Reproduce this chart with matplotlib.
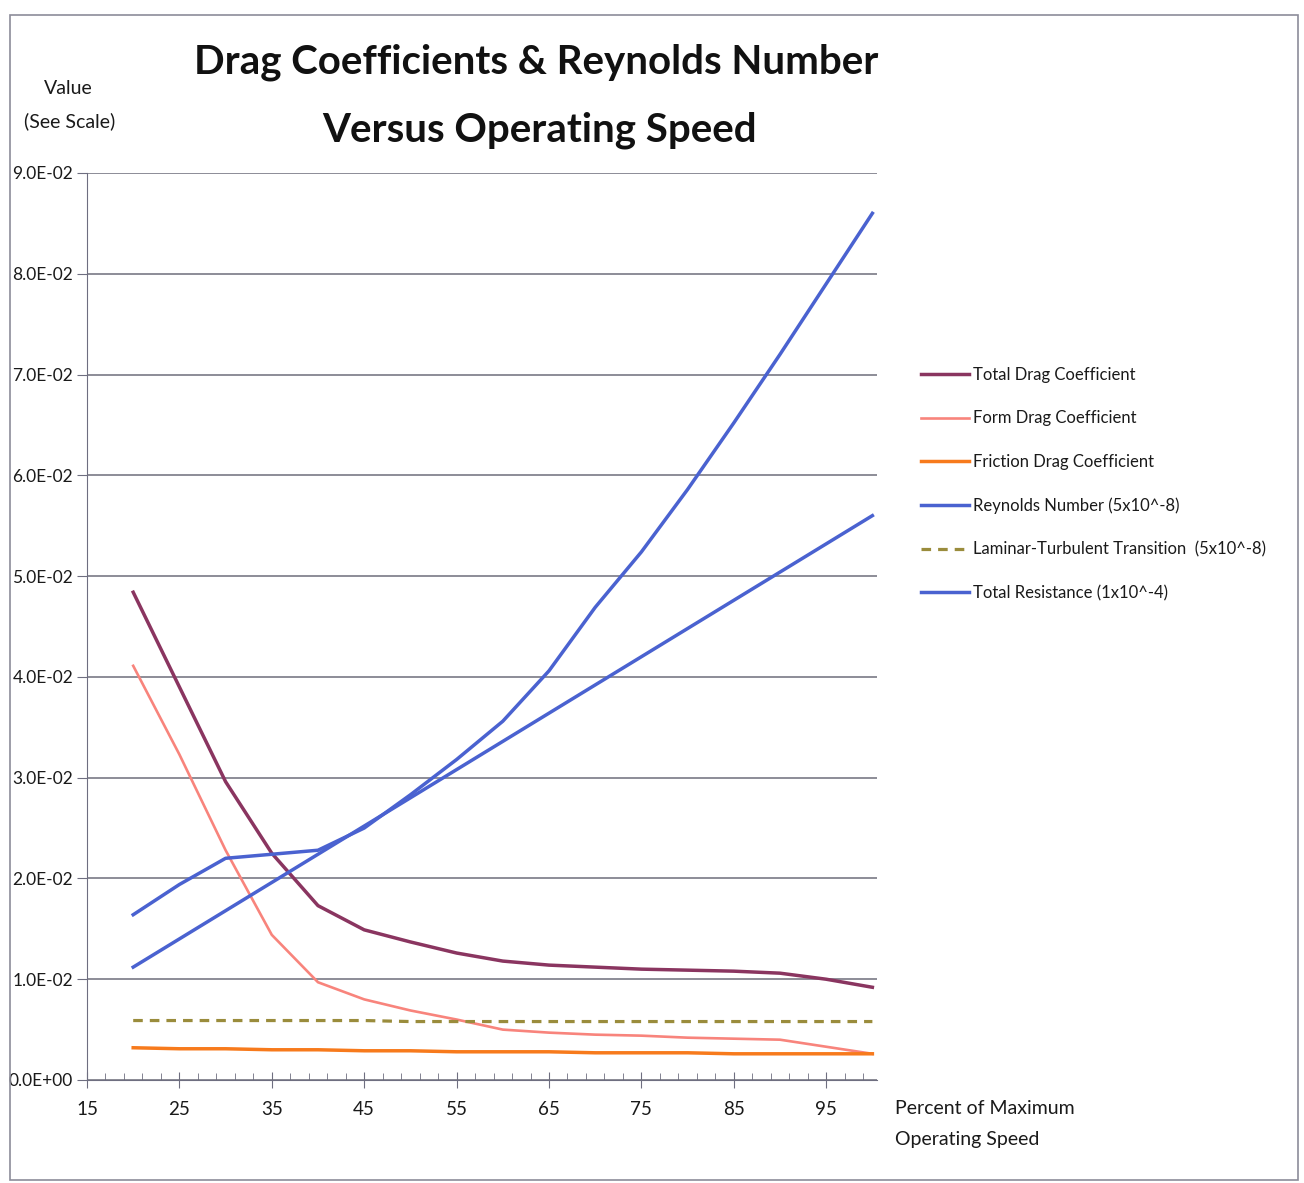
import matplotlib
matplotlib.use("Agg")
import matplotlib.pyplot as plt
from matplotlib.ticker import FuncFormatter, FixedLocator, MultipleLocator
from matplotlib.patches import Rectangle
from matplotlib import font_manager

# percent of maximum operating speed
speed = [20, 25, 30, 35, 40, 45, 50, 55, 60, 65, 70, 75, 80, 85, 90, 95, 100]

total_drag = [0.0484, 0.0390, 0.0296, 0.0225, 0.0173, 0.0149, 0.0137, 0.0126, 0.0118,
              0.0114, 0.0112, 0.0110, 0.0109, 0.0108, 0.0106, 0.0100, 0.0092]
form_drag = [0.0411, 0.0323, 0.0228, 0.0144, 0.0097, 0.0080, 0.0069, 0.0060, 0.0050,
             0.0047, 0.0045, 0.0044, 0.0042, 0.0041, 0.0040, 0.0033, 0.0026]
friction_drag = [0.0032, 0.0031, 0.0031, 0.0030, 0.0030, 0.0029, 0.0029, 0.0028, 0.0028,
                 0.0028, 0.0027, 0.0027, 0.0027, 0.0026, 0.0026, 0.0026, 0.0026]
reynolds = [0.0112, 0.0140, 0.0168, 0.0196, 0.0224, 0.0252, 0.0280, 0.0308, 0.0336,
            0.0364, 0.0392, 0.0420, 0.0448, 0.0476, 0.0504, 0.0532, 0.0560]
transition = [0.0059, 0.0059, 0.0059, 0.0059, 0.0059, 0.0059, 0.0058, 0.0058, 0.0058,
              0.0058, 0.0058, 0.0058, 0.0058, 0.0058, 0.0058, 0.0058, 0.0058]
total_resistance = [0.0164, 0.0194, 0.0220, 0.0224, 0.0228, 0.0250, 0.0283, 0.0318, 0.0356,
                    0.0406, 0.0469, 0.0524, 0.0586, 0.0652, 0.0720, 0.0790, 0.0860]

names = ["Total Drag Coefficient", "Form Drag Coefficient", "Friction Drag Coefficient",
         "Reynolds Number (5x10^-8)", "Laminar-Turbulent Transition  (5x10^-8)",
         "Total Resistance (1x10^-4)"]

xticks = [15, 25, 35, 45, 55, 65, 75, 85, 95]

available = {f.name for f in font_manager.fontManager.ttflist}
narrow = "Liberation Sans Narrow" if "Liberation Sans Narrow" in available else "Lato"
plt.rcParams['font.family'] = [narrow, 'DejaVu Sans']
txt = "#1a1a1a"
axis_col = "#6e6e80"

fig = plt.figure(figsize=(13.04, 11.83), dpi=100)
ax = fig.add_axes([87 / 1304, 1 - 1080 / 1183, (877 - 87) / 1304, (1080 - 173) / 1183])

ax.plot(speed, total_drag, color="#8a3560", lw=2.5, label=names[0])
ax.plot(speed, form_drag, color="#f8847c", lw=1.9, label=names[1])
ax.plot(speed, friction_drag, color="#f77a1c", lw=2.5, label=names[2])
ax.plot(speed, reynolds, color="#4a62d0", lw=2.5, label=names[3])
ax.plot(speed, transition, color="#9a8c3c", lw=2.3, ls=(0, (3, 2.2)), label=names[4])
ax.plot(speed, total_resistance, color="#4a62d0", lw=2.5, label=names[5])

ax.set_xlim(15, 100.5)
ax.set_ylim(0, 0.09)
ax.xaxis.set_major_locator(FixedLocator(xticks))
ax.xaxis.set_minor_locator(FixedLocator(range(17, 101, 2)))
ax.yaxis.set_major_locator(MultipleLocator(0.01))
ax.yaxis.set_major_formatter(FuncFormatter(lambda v, p: f"{v:.1E}"))
ax.grid(axis="y", color="#6e6e7a", lw=1.1)
ax.set_axisbelow(True)

for s in ["top", "right"]:
    ax.spines[s].set_visible(False)
ax.spines["left"].set_color(axis_col)
ax.spines["bottom"].set_color(axis_col)
ax.tick_params(axis="x", which="major", direction="inout", length=12, color=axis_col,
               labelsize=13.5, labelcolor=txt, pad=9)
ax.tick_params(axis="x", which="minor", direction="in", length=5, color=axis_col)
ax.tick_params(axis="y", direction="out", length=7, color=axis_col, labelsize=12.5,
               labelcolor=txt, pad=3)

fig.text(536 / 1304, 1 - 62 / 1183, "Drag Coefficients & Reynolds Number", ha="center",
         va="center", fontsize=29, fontweight="bold", color="#111111")
fig.text(540 / 1304, 1 - 130 / 1183, "Versus Operating Speed", ha="center", va="center",
         fontsize=29, fontweight="bold", color="#111111")
fig.text(68 / 1304, 1 - 88 / 1183, "Value", ha="center", va="center", fontsize=14, color=txt)
fig.text(70 / 1304, 1 - 121 / 1183, "(See Scale)", ha="center", va="center", fontsize=14,
         color=txt)
fig.text(895 / 1304, 1 - 1108 / 1183, "Percent of Maximum", ha="left", va="center",
         fontsize=14, color=txt)
fig.text(895 / 1304, 1 - 1140 / 1183, "Operating Speed", ha="left", va="center",
         fontsize=14, color=txt)

fig.legend(loc="upper left", bbox_to_anchor=(906 / 1304, 1 - 352 / 1183), frameon=False,
           fontsize=12, handlelength=2.9, handletextpad=0.2, labelspacing=1.65,
           labelcolor=txt)

fig.patches.append(Rectangle((10 / 1304, 3 / 1183), 1288 / 1304, 1165 / 1183,
                             transform=fig.transFigure, fill=False, edgecolor="#8c8c99",
                             lw=1.2))

fig.savefig("out.png", dpi=100)
